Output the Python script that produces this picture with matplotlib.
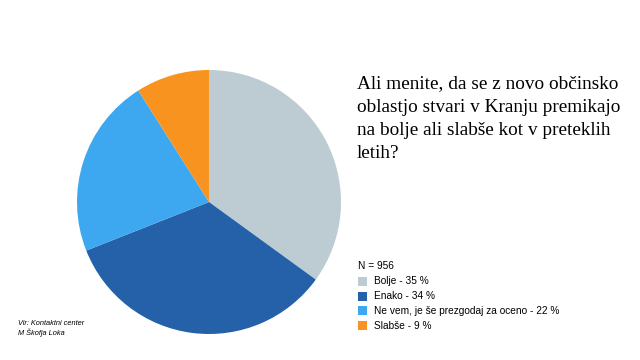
"""
Pie chart: opinion poll, Kranj
"""
import matplotlib
matplotlib.use('Agg')
import matplotlib.pyplot as plt
from matplotlib.patches import Rectangle

# data
labels = ['Bolje', 'Enako', 'Ne vem, je še prezgodaj za oceno', 'Slabše']
shares = [35, 34, 22, 9]
colors = ['#BDCCD3', '#2461A8', '#3DA8F0', '#F7931E']
n_total = 956
question = ('Ali menite, da se z novo občinsko\n'
            'oblastjo stvari v Kranju premikajo\n'
            'na bolje ali slabše kot v preteklih\n'
            'letih?')
source = 'Vir: Kontaktni center\nM Škofja Loka'

W, H = 640, 360
fig = plt.figure(figsize=(W / 100, H / 100), dpi=100)
fig.patch.set_facecolor('white')

# pie axis, centre ~ (209, 202) px, radius ~132 px
cx, cy, r = 209, 202, 132
ax = fig.add_axes([(cx - r) / W, 1 - (cy + r) / H, 2 * r / W, 2 * r / H])
ax.pie(shares, colors=colors, startangle=90, counterclock=False,
       wedgeprops={'linewidth': 0})
ax.set_aspect('equal')
ax.set_xlim(-1, 1)
ax.set_ylim(-1, 1)
ax.axis('off')

# question, baselines ~86, 110, 134, 158 px (anchor = last line baseline)
fig.text(357 / W, 1 - 158 / H, question, ha='left', va='baseline',
         family=['Liberation Serif', 'DejaVu Serif'], fontsize=13.9,
         linespacing=1.48, color='black', multialignment='left')

# legend
lfont = ['Liberation Sans', 'DejaVu Sans']
fig.text(358 / W, 1 - 266 / H, f'N = {n_total}', ha='left', va='center',
         family=lfont, fontsize=7.3)
for i, (lab, val, col) in enumerate(zip(labels, shares, colors)):
    y = 281.5 + i * 14.7
    fig.patches.append(Rectangle((358 / W, 1 - (y + 4.5) / H), 9 / W, 9 / H,
                                 transform=fig.transFigure, color=col,
                                 linewidth=0))
    fig.text(374 / W, 1 - y / H, f'{lab} - {val} %', ha='left', va='center',
             family=lfont, fontsize=7.3)

# source
fig.text(18 / W, 1 - 320 / H, source, ha='left', va='top', family=lfont,
         style='italic', fontsize=5.3, linespacing=1.2)

fig.savefig('out.png', dpi=100)
